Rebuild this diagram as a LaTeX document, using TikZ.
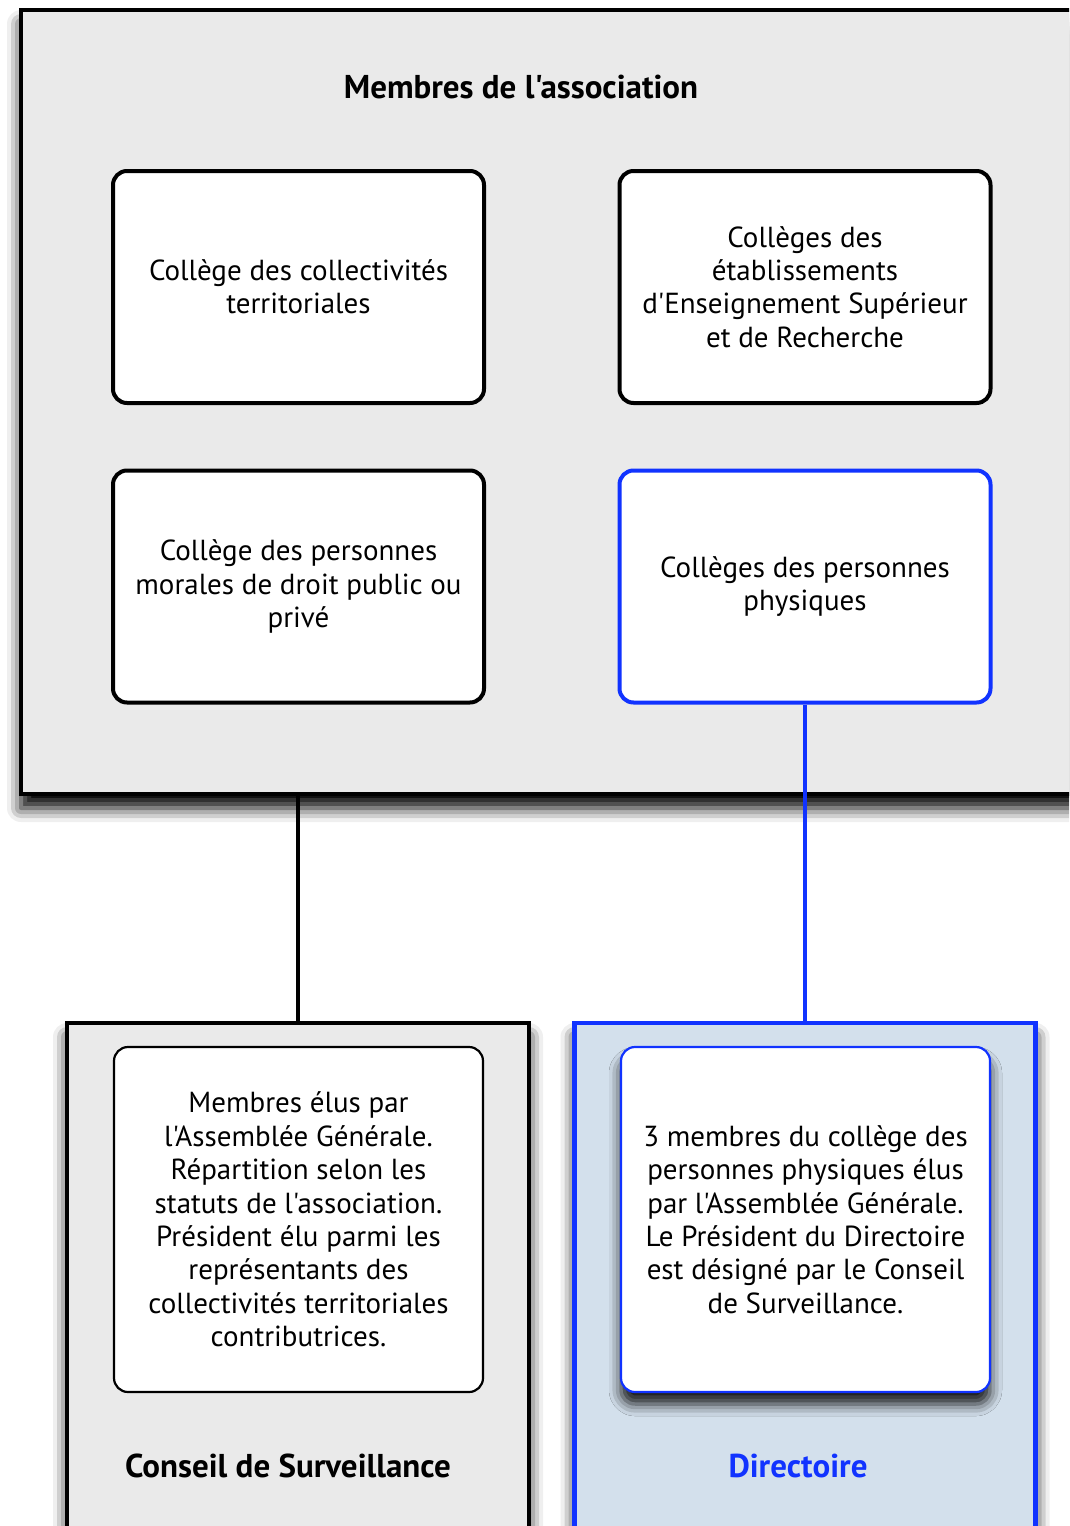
\documentclass[tikz,border=0pt]{standalone}
\usepackage{fontspec}
\setmainfont{PT Sans}[Ligatures=TeXOff]
\usetikzlibrary{positioning}
\usetikzlibrary{shadows.blur}
\definecolor{lineblue}{RGB}{17,51,255}
\definecolor{panelgray}{RGB}{234,234,234}
\definecolor{panelblue}{RGB}{211,224,236}

\begin{document}
\begin{tikzpicture}[x=1pt, y=-1pt,
	frame/.style  = {rectangle, draw=black, line width=4.5pt, fill=panelgray, inner sep=0pt,
		blur shadow={shadow xshift=0pt, shadow yshift=-14pt, shadow blur radius=14pt, shadow opacity=100}},
	bframe/.style = {frame, draw=lineblue, fill=panelblue},
	coll/.style   = {rectangle, rounded corners=14pt, draw=black, line width=4pt, fill=white,
		minimum width=371pt, minimum height=232pt, align=center, inner sep=0pt,
		font=\fontsize{29}{33.4}\selectfont},
	bcoll/.style  = {coll, draw=lineblue},
	inbox/.style  = {coll, line width=2.2pt, minimum width=369pt, minimum height=345pt},
	binbox/.style = {inbox, draw=lineblue,
		blur shadow={shadow xshift=0pt, shadow yshift=-12pt, shadow blur radius=12pt, shadow opacity=90}},
	title/.style  = {font=\fontsize{33}{36}\selectfont\bfseries, inner sep=0pt},
	link/.style   = {line width=4pt}
	]
	\clip (0,0) rectangle (1069,1526);
	
	% === === Frames === ===
	\node[frame, minimum width=1061pt, minimum height=784pt]	(membres)	at	(551.5, 402)	{};
	\node[frame, minimum width=462pt, minimum height=547pt]		(cs)		at	(298, 1296.5)	{};
	\node[bframe, minimum width=461pt, minimum height=547pt]	(dir)		at	(805, 1296.5)	{};
	
	\node[title]				(tmembres)	at	(521, 87)		{Membres de l'association};
	\node[title]				(tcs)		at	(288, 1466)		{Conseil de Surveillance};
	\node[title, lineblue]		(tdir)		at	(798, 1466)		{Directoire};
	
	% === === Colleges === ===
	\node[coll]		(ct)	at	(298.5, 287)	{Collège des collectivités\\territoriales};
	\node[coll]		(esr)	at	(805, 287)		{Collèges des\\établissements\\d'Enseignement Supérieur\\et de Recherche};
	\node[coll]		(pm)	at	(298.5, 586.5)	{Collège des personnes\\morales de droit public ou\\privé};
	\node[bcoll]	(pp)	at	(805, 586.5)	{Collèges des personnes\\physiques};
	
	% === === Lines === ===
	\draw[link]				(cs.north |- membres.south)	--	(cs.north);
	\draw[link, lineblue]	(pp.south)					--	(dir.north);
	
	% === === Contents === ===
	\node[inbox]	(csin)	at	(298.5, 1219.5)	{Membres élus par\\l'Assemblée Générale.\\Répartition selon les\\statuts de l'association.\\Président élu parmi les\\représentants des\\collectivités territoriales\\contributrices.};
	\node[binbox]	(dirin)	at	(805.5, 1219.5)	{3 membres du collège des\\personnes physiques élus\\par l'Assemblée Générale.\\Le Président du Directoire\\est désigné par le Conseil\\de Surveillance.};
	
\end{tikzpicture}
\end{document}
